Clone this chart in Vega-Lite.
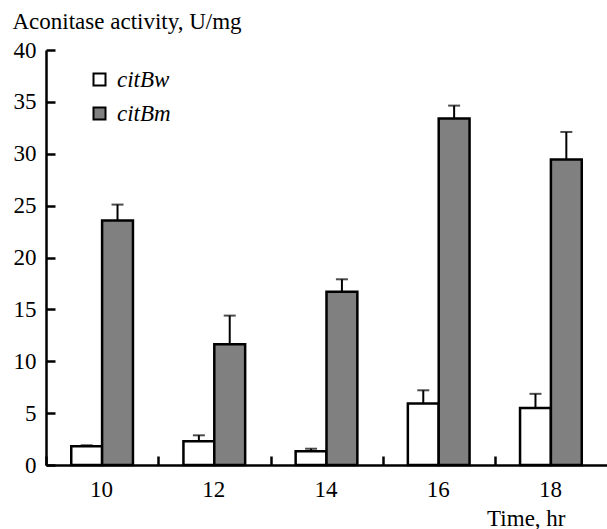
{
  "$schema": "https://vega.github.io/schema/vega-lite/v6.json",
  "width": 561,
  "height": 415,
  "autosize": {"type": "none"},
  "padding": {"left": 46, "top": 50, "right": 0, "bottom": 64},
  "background": "white",
  "config": {
    "view": {"stroke": null},
    "font": "Liberation Serif",
    "axis": {
      "domainColor": "black",
      "domainWidth": 2.5,
      "tickColor": "black",
      "tickWidth": 2.5,
      "grid": false,
      "labelFont": "Liberation Serif",
      "labelFontSize": 23,
      "labelColor": "black",
      "titleFont": "Liberation Serif",
      "titleFontSize": 23,
      "titleFontWeight": "normal",
      "titleColor": "black"
    }
  },
  "data": {
    "values": [
      {"time": "10", "series": "citBw", "value": 1.8, "upper": 1.9},
      {"time": "12", "series": "citBw", "value": 2.28, "upper": 2.86},
      {"time": "14", "series": "citBw", "value": 1.32, "upper": 1.57},
      {"time": "16", "series": "citBw", "value": 5.93, "upper": 7.2},
      {"time": "18", "series": "citBw", "value": 5.5, "upper": 6.86},
      {"time": "10", "series": "citBm", "value": 23.56, "upper": 25.1},
      {"time": "12", "series": "citBm", "value": 11.63, "upper": 14.4},
      {"time": "14", "series": "citBm", "value": 16.7, "upper": 17.9},
      {"time": "16", "series": "citBm", "value": 33.4, "upper": 34.64},
      {"time": "18", "series": "citBm", "value": 29.45, "upper": 32.1}
    ]
  },
  "encoding": {
    "x": {
      "field": "time",
      "type": "ordinal",
      "scale": {"paddingInner": 0.45, "paddingOuter": 0.225},
      "axis": {
        "title": "Time, hr",
        "labelAngle": 0,
        "tickOffset": -56,
        "labelOffset": 55,
        "tickSize": -9,
        "labelPadding": 22,
        "titleX": 519,
        "titleY": 60,
        "titleAlign": "right",
        "titleBaseline": "alphabetic"
      }
    },
    "xOffset": {"field": "series", "sort": ["citBw", "citBm"], "scale": {"paddingInner": 0}}
  },
  "layer": [
    {
      "mark": {"type": "rule", "color": "black", "strokeWidth": 2},
      "encoding": {
        "y": {"field": "value", "type": "quantitative"},
        "y2": {"field": "upper"}
      }
    },
    {
      "mark": {"type": "tick", "color": "black", "thickness": 2, "size": 12, "orient": "horizontal"},
      "encoding": {
        "y": {"field": "upper", "type": "quantitative"}
      }
    },
    {
      "mark": {"type": "bar", "stroke": "black", "strokeWidth": 2.5},
      "encoding": {
        "y": {
          "field": "value",
          "type": "quantitative",
          "scale": {"domain": [0, 40], "nice": false},
          "axis": {
            "title": "Aconitase activity, U/mg",
            "values": [0, 5, 10, 15, 20, 25, 30, 35, 40],
            "tickSize": -9,
            "labelPadding": 19,
            "titleAngle": 0,
            "titleX": -34,
            "titleY": -22,
            "titleAlign": "left",
            "titleBaseline": "alphabetic"
          }
        },
        "fill": {
          "field": "series",
          "type": "nominal",
          "scale": {"domain": ["citBw", "citBm"], "range": ["white", "#808080"]},
          "legend": {
            "title": null,
            "orient": "none",
            "legendX": 42,
            "legendY": 18,
            "symbolType": "square",
            "symbolSize": 144,
            "symbolStrokeColor": "black",
            "symbolStrokeWidth": 2,
            "symbolOpacity": 1,
            "labelFont": "Liberation Serif",
            "labelFontSize": 23,
            "labelFontStyle": "italic",
            "labelColor": "black",
            "labelOffset": 6,
            "rowPadding": 10
          }
        }
      }
    }
  ]
}
